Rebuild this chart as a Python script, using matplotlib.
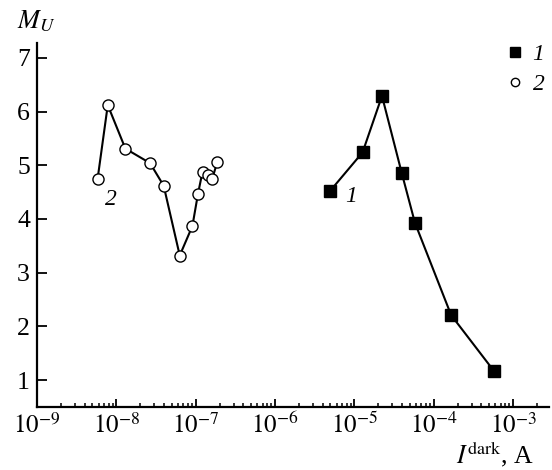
import numpy as np
import matplotlib
matplotlib.use("Agg")
import matplotlib.pyplot as plt
from matplotlib.lines import Line2D
from matplotlib.ticker import LogLocator, NullFormatter, FuncFormatter

plt.rcParams['font.family'] = ['Liberation Serif', 'DejaVu Serif']
plt.rcParams['mathtext.fontset'] = 'stix'

# curve 1: filled squares
i1 = [5.0e-6, 1.27e-5, 2.23e-5, 3.95e-5, 5.8e-5, 1.66e-4, 5.75e-4]
m1 = [4.53, 5.24, 6.29, 4.86, 3.93, 2.21, 1.17]

# curve 2: open circles
i2 = [5.8e-9, 7.8e-9, 1.30e-8, 2.66e-8, 3.95e-8, 6.3e-8, 9.1e-8,
      1.07e-7, 1.22e-7, 1.41e-7, 1.62e-7, 1.87e-7]
m2 = [4.74, 6.12, 5.31, 5.04, 4.62, 3.32, 3.87, 4.47, 4.88, 4.82, 4.75, 5.06]

fig = plt.figure(figsize=(5.52, 4.70), dpi=100)
ax = fig.add_axes([0.067, 0.134, 0.928, 0.775])

ax.plot(i1, m1, '-', color='black', lw=1.5, marker='s', ms=8,
        mfc='black', mec='black')
ax.plot(i2, m2, '-', color='black', lw=1.5, marker='o', ms=8,
        mfc='white', mec='black', mew=1.0)

ax.set_xscale('log')
ax.set_xlim(1e-9, 2.86e-3)
ax.set_ylim(0.5, 7.28)

ax.spines['top'].set_visible(False)
ax.spines['right'].set_visible(False)
ax.spines['left'].set_linewidth(1.6)
ax.spines['bottom'].set_linewidth(1.6)

def decade(x, pos):
    e = int(round(np.log10(x)))
    return r'$10^{%d}$' % e

ax.xaxis.set_major_locator(LogLocator(base=10, numticks=20))
ax.xaxis.set_minor_locator(LogLocator(base=10, subs=np.arange(2, 10), numticks=20))
ax.xaxis.set_major_formatter(FuncFormatter(decade))
ax.xaxis.set_minor_formatter(NullFormatter())
ax.set_yticks([1, 2, 3, 4, 5, 6, 7])

ax.tick_params(axis='x', which='major', direction='in', length=6, width=1.3,
               labelsize=18, pad=4)
ax.tick_params(axis='x', which='minor', direction='in', length=3.2, width=1.1)
ax.tick_params(axis='y', which='major', direction='in', length=7, width=1.3,
               labelsize=18.5, pad=5)

# curve numbers next to the data
ax.text(7.3e-9, 4.36, '2', fontsize=17, style='italic', ha='left', va='center')
ax.text(7.6e-6, 4.41, '1', fontsize=17, style='italic', ha='left', va='center')

handles = [
    Line2D([], [], ls='none', marker='s', ms=7.5, mfc='black', mec='black'),
    Line2D([], [], ls='none', marker='o', ms=6, mfc='white', mec='black', mew=1.0),
]
ax.legend(handles, ['1', '2'], loc='upper right', bbox_to_anchor=(1.032, 1.056),
          frameon=False, handlelength=0.6, handletextpad=0.45, labelspacing=0.35,
          prop={'style': 'italic', 'size': 17})

fig.text(0.03, 0.955, '$M_U$', fontsize=19, ha='left', va='center')
fig.text(0.967, 0.033, r'$I^{\mathrm{dark}}$, A', fontsize=18.5, ha='right', va='center')

fig.savefig('out.png', dpi=100)
